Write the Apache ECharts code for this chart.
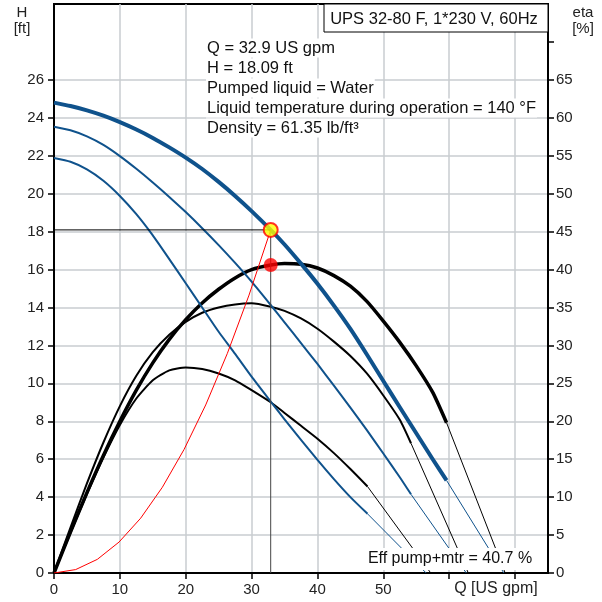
<!DOCTYPE html>
<html>
<head>
<meta charset="utf-8">
<script src="https://cdn.jsdelivr.net/npm/echarts@6/dist/echarts.min.js"></script>
<style>html,body{margin:0;padding:0;background:#fff}#c{width:602px;height:602px}</style>
</head>
<body>
<div id="c"></div>
<script>
// ---- data ----
const Q_PUMP1 = [0,2.5,5,7.5,10,12.5,15,17.5,20,22.5,25,27.5,30,32.9,35,37.5,40,42.5,45,47.5,50,52.5,55,57.5,59.6];
const H_PUMP1 = [24.8,24.62,24.39,24.11,23.77,23.38,22.94,22.44,21.9,21.3,20.62,19.88,19.08,18.09,17.32,16.31,15.25,14.1,12.87,11.52,10.12,8.74,7.37,6.0,4.88];
const Q_PUMP2 = [0,2.5,5,7.5,10,12.5,15,17.5,20,22.5,25,27.5,30,32.9,35,37.5,40,42.5,45,47.5,50,52.5,54.2];
const H_PUMP2 = [23.53,23.34,23.02,22.57,21.98,21.31,20.59,19.83,19.03,18.18,17.29,16.35,15.36,14.13,13.22,12.12,11.02,9.88,8.72,7.53,6.3,5.05,4.15];
const Q_PUMP3 = [0,2.5,5,7.5,10,12.5,15,17.5,20,22.5,25,27.5,30,32.9,35,37.5,40,42.5,45,47.6];
const H_PUMP3 = [21.88,21.68,21.28,20.68,19.88,18.92,17.8,16.55,15.28,14.0,12.72,11.55,10.35,9.04,8.1,7.02,5.96,4.95,4.0,3.12];

const Q_ETA1 = [0,2.5,5,7.5,10,12.5,15,17.5,20,22.5,25,27.5,30,32.9,35,37.5,40,42.5,45,47.5,50,52.5,55,57.5,59.6];
const E_ETA1 = [0,5.4,10.6,15.5,20.0,24.1,27.7,30.8,33.4,35.6,37.4,38.9,40.0,40.6,40.8,40.7,40.2,39.2,37.8,35.8,33.2,30.4,27.3,23.8,19.8];
const Q_ETA2 = [0,2.5,5,7.5,10,12.5,15,17.5,20,22.5,25,27.5,30,32.9,35,37.5,40,42.5,45,47.5,50,52.5,54.2];
const E_ETA2 = [0,6.0,11.8,17.2,22.0,26.0,29.1,31.4,33.1,34.3,35.0,35.4,35.55,35.1,34.55,33.55,32.2,30.5,28.6,26.3,23.4,20.2,17.1];
const Q_ETA3 = [0,2.5,5,7.5,10,12.5,15,17.5,20,22.5,25,27.5,30,32.9,35,37.5,40,42.5,45,47.6];
const E_ETA3 = [0,5.3,10.4,15.2,19.5,23.0,25.4,26.7,27.1,26.9,26.3,25.4,24.1,22.5,21.1,19.4,17.7,15.8,13.7,11.4];

const Q_SYS = [0,3.29,6.58,9.87,13.16,16.45,19.74,23.03,26.32,29.61,32.9];
const H_SYS = [0,0.18,0.72,1.63,2.89,4.52,6.51,8.86,11.58,14.65,18.09];

// leader lines: [start Q, start value, end Q at 0]
const LEAD_PUMP = [[47.6,3.12,56.5],[54.2,4.15,62.6],[59.6,4.88,68.3]];
const LEAD_ETA  = [[47.6,11.4,57.2],[54.2,17.1,62.9],[59.6,19.8,68.5]];

const DUTY_Q = 32.9, DUTY_H = 18.09, DUTY_ETA = 40.6;

const X_TICKS = [0,10,20,30,40,50,60,70];
const X_LABELS = [0,10,20,30,40,50];
const H_TICKS = [0,2,4,6,8,10,12,14,16,18,20,22,24,26];
const E_TICKS = [0,5,10,15,20,25,30,35,40,45,50,55,60,65,70];
const E_LABELS = [0,5,10,15,20,25,30,35,40,45,50,55,60,65];

const TITLE = 'UPS 32-80 F, 1*230 V, 60Hz';
const INFO = ['Q = 32.9 US gpm','H = 18.09 ft','Pumped liquid = Water','Liquid temperature during operation = 140 °F','Density = 61.35 lb/ft³'];
const EFF_LABEL = 'Eff pump+mtr = 40.7 %';

// ---- chart ----
const FONT = '"Liberation Sans", Arial, Helvetica, sans-serif';
const BLUE = '#0f528c';
const zip = (a,b) => a.map((v,i)=>[v,b[i]]);

const chart = echarts.init(document.getElementById('c'), null, {renderer:'canvas'});

function line(data, color, width, yIdx, smooth, z) {
  return {type:'line', data, xAxisIndex:0, yAxisIndex:yIdx, symbol:'none', smooth:smooth,
    lineStyle:{color, width, cap:'butt', join:'round'}, z: z || 3, silent:true, animation:false};
}

const series = [
  line(zip(Q_ETA1,E_ETA1),'#000',3.5,1,0.2,4),
  line(zip(Q_ETA2,E_ETA2),'#000',2,1,0.2,4),
  line(zip(Q_ETA3,E_ETA3),'#000',2,1,0.2,4),
  line(zip(Q_PUMP1,H_PUMP1),BLUE,4,0,0.2,5),
  line(zip(Q_PUMP2,H_PUMP2),BLUE,2,0,0.2,5),
  line(zip(Q_PUMP3,H_PUMP3),BLUE,2,0,0.2,5),
];
LEAD_PUMP.forEach(l => series.push(line([[l[0],l[1]],[l[2],0]],BLUE,1,0,false,3)));
LEAD_ETA.forEach(l => series.push(line([[l[0],l[1]],[l[2],0]],'#000',1,1,false,3)));
series.push(line(zip(Q_SYS,H_SYS),'#ff0000',1,0,false,6));
series.push(line([[0,DUTY_H],[DUTY_Q,DUTY_H]],'#000',1,0,false,6));
series.push(line([[DUTY_Q,DUTY_H],[DUTY_Q,0]],'#444',1,0,false,6));
series.push({type:'scatter', xAxisIndex:0, yAxisIndex:1, data:[[DUTY_Q,DUTY_ETA]], symbol:'circle', symbolSize:14,
  itemStyle:{color:'#ff0000'}, z:8, silent:true, animation:false});
series.push({type:'scatter', xAxisIndex:0, yAxisIndex:0, data:[[DUTY_Q,DUTY_H]], symbol:'circle', symbolSize:14,
  itemStyle:{color:'#ffff00', borderColor:'#ff0000', borderWidth:2}, z:8, silent:true, animation:false});

const labelStyle = {fontSize:15, color:'#222', fontFamily:FONT};

const graphic = [
  {type:'rect', z:100, shape:{x:324, y:4, width:224, height:28}, style:{fill:'#fff', stroke:'#000', lineWidth:1}},
  {type:'text', z:101, x:434, y:19, style:{text:TITLE, font:'16.5px '+FONT, fill:'#111', align:'center', verticalAlign:'middle'}},
  {type:'text', z:101, x:22, y:13, style:{text:'H', font:'15px '+FONT, fill:'#222', align:'center', verticalAlign:'middle'}},
  {type:'text', z:101, x:22, y:29, style:{text:'[ft]', font:'15px '+FONT, fill:'#222', align:'center', verticalAlign:'middle'}},
  {type:'text', z:101, x:583, y:13, style:{text:'eta', font:'15px '+FONT, fill:'#222', align:'center', verticalAlign:'middle'}},
  {type:'text', z:101, x:583, y:29, style:{text:'[%]', font:'15px '+FONT, fill:'#222', align:'center', verticalAlign:'middle'}},
  {type:'text', z:101, x:496, y:589, style:{text:'Q [US gpm]', font:'16px '+FONT, fill:'#222', align:'center', verticalAlign:'middle'}},
  {type:'text', z:101, x:450, y:559, style:{text:EFF_LABEL, font:'16px '+FONT, fill:'#111', align:'center', verticalAlign:'middle',
     backgroundColor:'#fff', padding:[3,4,3,4]}},
];
INFO.forEach((t,i) => graphic.push({type:'text', z:101, x:206, y:48+i*20,
  style:{text:t, font:'16.5px '+FONT, fill:'#111', align:'left', verticalAlign:'middle', backgroundColor:'#fff', padding:[1,1,1,1]}}));

chart.setOption({
  animation:false,
  backgroundColor:'#fff',
  grid:{left:54, right:54, top:4, bottom:29, show:true, borderColor:'#000', borderWidth:2, backgroundColor:'transparent'},
  xAxis:{type:'value', min:0, max:75, interval:10,
    axisLine:{show:true, onZero:false, lineStyle:{color:'#000', width:2}},
    axisTick:{show:true, length:6, inside:false, customValues:X_TICKS, lineStyle:{color:'#000', width:1.5}},
    axisLabel:{...labelStyle, margin:9, customValues:X_LABELS},
    splitLine:{show:true, lineStyle:{color:'#c8ccd0', width:1.5}}},
  yAxis:[
    {type:'value', min:0, max:30, interval:2, position:'left',
      axisLine:{show:true, onZero:false, lineStyle:{color:'#000', width:2}},
      axisTick:{show:true, length:6, customValues:H_TICKS, lineStyle:{color:'#000', width:1.5}},
      axisLabel:{...labelStyle, margin:10, customValues:H_TICKS},
      splitLine:{show:true, lineStyle:{color:'#c8ccd0', width:1.5}}},
    {type:'value', min:0, max:75, interval:5, position:'right',
      axisLine:{show:true, onZero:false, lineStyle:{color:'#000', width:2}},
      axisTick:{show:true, length:6, customValues:E_TICKS, lineStyle:{color:'#000', width:1.5}},
      axisLabel:{...labelStyle, margin:8, customValues:E_LABELS},
      splitLine:{show:false}}
  ],
  series,
  graphic
});
</script>
</body>
</html>
